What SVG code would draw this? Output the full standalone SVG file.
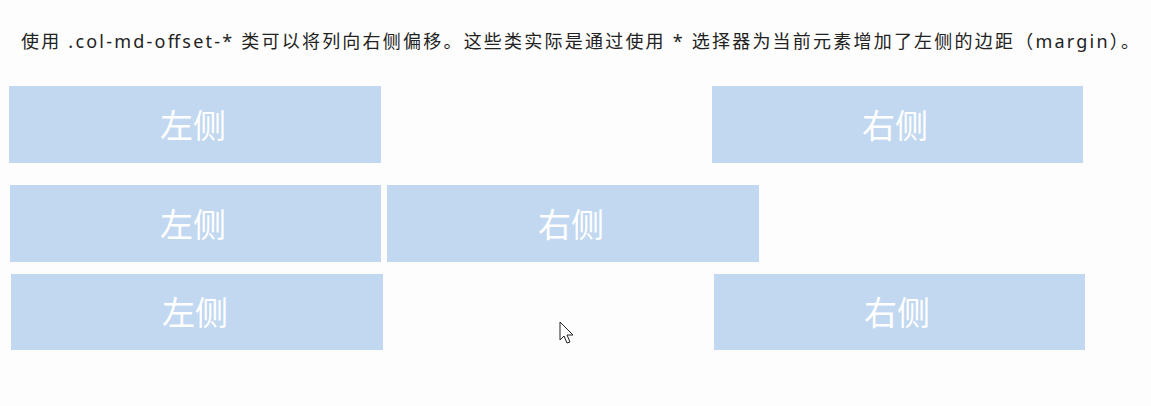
<svg xmlns="http://www.w3.org/2000/svg" width="1151" height="406" viewBox="0 0 1151 406">
<style>
.box{fill:#c2d8f0}
.lbl{font-family:"Noto Sans CJK SC","Noto Sans",sans-serif;font-size:33px;fill:#ffffff;text-anchor:middle;dominant-baseline:central}
.t{font-family:"Noto Sans","Noto Sans CJK SC",sans-serif;font-size:18px;fill:#222}
</style>
<rect width="1151" height="406" fill="#fcfdfc"/>
<text class="t" x="21" y="48" textLength="1118" lengthAdjust="spacing">使用 .col-md-offset-* 类可以将列向右侧偏移。这些类实际是通过使用 * 选择器为当前元素增加了左侧的边距（margin）。</text>
<g id="r1-left"><rect class="box" x="9" y="86" width="372" height="77"/><text class="lbl" x="193" y="124">左侧</text></g>
<g id="r1-right"><rect class="box" x="712" y="86" width="371" height="77"/><text class="lbl" x="895" y="124">右侧</text></g>
<g id="r2-left"><rect class="box" x="10" y="185" width="371" height="77"/><text class="lbl" x="193" y="223">左侧</text></g>
<g id="r2-right"><rect class="box" x="387" y="185" width="372" height="77"/><text class="lbl" x="571" y="223">右侧</text></g>
<g id="r3-left"><rect class="box" x="11" y="274" width="372" height="76"/><text class="lbl" x="195" y="311">左侧</text></g>
<g id="r3-right"><rect class="box" x="714" y="274" width="371" height="76"/><text class="lbl" x="897" y="311">右侧</text></g>
<g id="connectors"/>
<path d="M560 322 L560 340 L564 336 L567 343 L570 342 L567 335 L573 335 Z" fill="#fff" stroke="#222" stroke-width="1"/>
</svg>
